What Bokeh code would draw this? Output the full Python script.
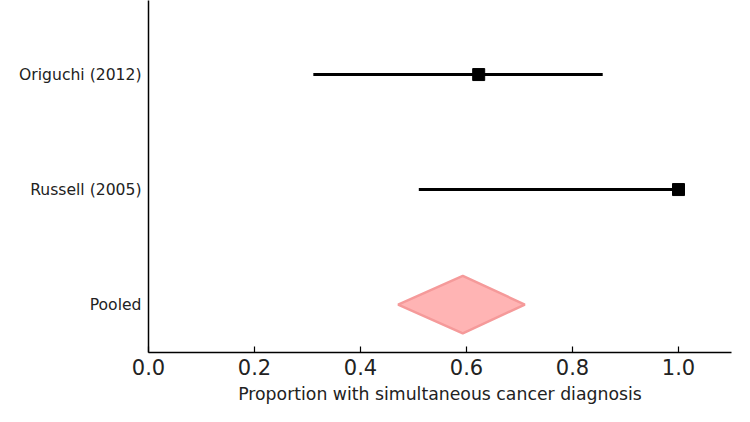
from bokeh.plotting import figure
from bokeh.models import Range1d, FixedTicker, ColumnDataSource
from bokeh.embed import file_html
from bokeh.resources import INLINE

# Study estimates (proportion with simultaneous cancer diagnosis)
studies = ["Origuchi (2012)", "Russell (2005)"]
study_pos = [2, 1]
study_est = [0.623, 1.0]
study_lo = [0.311, 0.510]
study_hi = [0.857, 1.0]

# Pooled estimate
pooled_label = "Pooled"
pooled_pos = 0
pooled_est = 0.593
pooled_lo = 0.471
pooled_hi = 0.710

x_ticks = [0.0, 0.2, 0.4, 0.6, 0.8, 1.0]
x_tick_labels = ["0.0", "0.2", "0.4", "0.6", "0.8", "1.0"]

FONT = "DejaVu Sans"

p = figure(
    width=750, height=422,
    x_range=Range1d(0, 1.1), y_range=Range1d(-0.417, 2.644),
    output_backend="svg", toolbar_location=None,
    min_border_left=148, min_border_right=19,
    min_border_top=0, min_border_bottom=70,
)
p.outline_line_color = None
p.grid.grid_line_color = None
p.background_fill_color = "white"
p.border_fill_color = "white"

# x axis: inward ticks, classic look
xa = p.xaxis[0]
xa.ticker = FixedTicker(ticks=x_ticks)
xa.major_label_overrides = {t: s for t, s in zip(x_ticks, x_tick_labels)}
xa.major_tick_in = 6
xa.major_tick_out = 0
xa.minor_tick_line_color = None
xa.major_label_text_font = FONT
xa.major_label_text_font_size = "21px"
xa.major_label_text_color = "#222222"
xa.major_label_standoff = 6
xa.axis_label = "Proportion with simultaneous cancer diagnosis"
xa.axis_label_text_font = FONT
xa.axis_label_text_font_size = "17.3px"
xa.axis_label_text_font_style = "normal"
xa.axis_label_text_color = "#222222"
xa.axis_label_standoff = 6
xa.axis_line_width = 1.5
xa.major_tick_line_width = 1.2

# y axis: study names as labels
ya = p.yaxis[0]
ya.ticker = FixedTicker(ticks=study_pos + [pooled_pos])
overrides = {p_: s for p_, s in zip(study_pos, studies)}
overrides[pooled_pos] = pooled_label
ya.major_label_overrides = overrides
ya.major_tick_in = 0
ya.major_tick_out = 0
ya.minor_tick_line_color = None
ya.major_label_text_font = FONT
ya.major_label_text_font_size = "15.6px"
ya.major_label_text_color = "#222222"
ya.major_label_standoff = 7
ya.axis_line_width = 1.5

# confidence intervals and point estimates
src = ColumnDataSource(dict(y=study_pos, est=study_est, lo=study_lo, hi=study_hi))
p.segment(x0="lo", x1="hi", y0="y", y1="y", source=src, line_color="black", line_width=3)
p.scatter(x="est", y="y", source=src, marker="square", size=12,
          fill_color="black", line_color="black")

# pooled diamond
half_h = 0.25
p.patch(
    x=[pooled_lo, pooled_est, pooled_hi, pooled_est],
    y=[pooled_pos, pooled_pos + half_h, pooled_pos, pooled_pos - half_h],
    fill_color="#ffb4b4", line_color="#f59a9a", line_width=2.5,
)

open("out.html", "w").write(file_html(p, INLINE))
